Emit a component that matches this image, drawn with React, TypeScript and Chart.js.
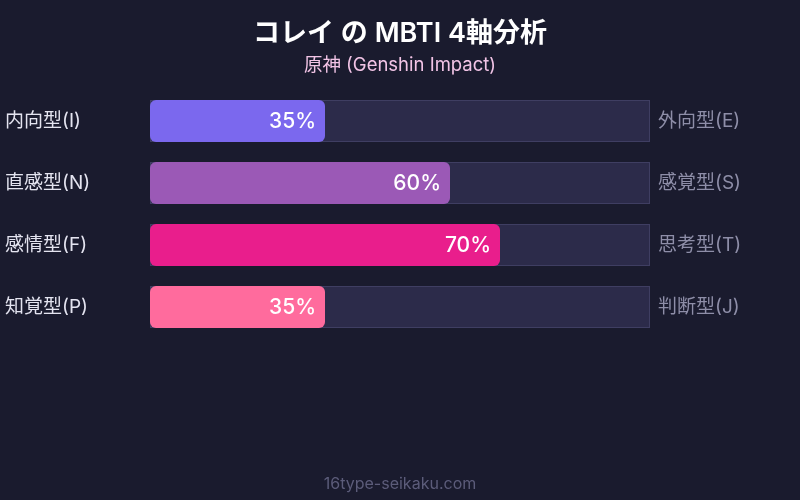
import React, { useEffect, useRef } from "react";
import { Chart, registerables } from "chart.js";

Chart.register(...registerables);

const titleText = "コレイ の MBTI 4軸分析";
const subtitleText = "原神 (Genshin Impact)";
const footerText = "16type-seikaku.com";
const leftLabels = ["内向型(I)", "直感型(N)", "感情型(F)", "知覚型(P)"];
const rightLabels = ["外向型(E)", "感覚型(S)", "思考型(T)", "判断型(J)"];
const values = [35, 60, 70, 35];
const trackValues = [100, 100, 100, 100];
const barColors = ["#7b68ee", "#9b59b6", "#e91e8c", "#ff6b9d"];

const FONT = "Inter, 'Noto Sans CJK JP', 'Noto Sans', sans-serif";
const BG = "#1a1b2e";

export default function App() {
  const ref = useRef<HTMLCanvasElement | null>(null);

  useEffect(() => {
    document.body.style.margin = "0";
    const canvas = ref.current;
    if (!canvas) return;

    const textPlugin = {
      id: "textPlugin",
      afterDatasetsDraw(chart: any) {
        const ctx = chart.ctx;
        const w = chart.width;
        const yScale = chart.scales.y;
        const xScale = chart.scales.x;
        ctx.save();
        ctx.textBaseline = "middle";
        // title
        ctx.textAlign = "center";
        ctx.fillStyle = "#ffffff";
        ctx.font = `600 27px ${FONT}`;
        ctx.fillText(titleText, w / 2, 34);
        ctx.fillStyle = "#f2c4e6";
        ctx.font = `18.5px ${FONT}`;
        ctx.fillText(subtitleText, w / 2, 65);
        // footer
        ctx.fillStyle = "#5c5c7a";
        ctx.font = `16px ${FONT}`;
        ctx.fillText(footerText, w / 2, 484);
        // side labels
        leftLabels.forEach((lab, i) => {
          const y = yScale.getPixelForValue(i);
          ctx.textAlign = "left";
          ctx.fillStyle = "#e4e4f0";
          ctx.font = `19px ${FONT}`;
          ctx.fillText(lab, 5, y);
          ctx.fillStyle = "#8e8ea8";
          ctx.fillText(rightLabels[i], chart.chartArea.right + 8, y);
          // value
          const xEnd = xScale.getPixelForValue(values[i]);
          ctx.textAlign = "right";
          ctx.fillStyle = "#ffffff";
          ctx.font = `500 21px ${FONT}`;
          ctx.fillText(`${values[i]}%`, xEnd - 9, y + 1);
        });
        ctx.restore();
      },
    };

    const chart = new Chart(canvas, {
      type: "bar",
      data: {
        labels: leftLabels,
        datasets: [
          {
            data: values,
            backgroundColor: barColors,
            borderWidth: 0,
            borderRadius: 6,
            borderSkipped: false,
            grouped: false,
            order: 0,
            barPercentage: 0.68,
            categoryPercentage: 1,
          },
          {
            data: trackValues,
            backgroundColor: "#2c2b4a",
            borderColor: "#3f3e62",
            borderWidth: 1,
            borderSkipped: false,
            grouped: false,
            order: 1,
            barPercentage: 0.68,
            categoryPercentage: 1,
          },
        ],
      },
      options: {
        indexAxis: "y",
        animation: false,
        responsive: false,
        maintainAspectRatio: false,
        layout: { padding: { left: 150, right: 150, top: 90, bottom: 162 } },
        scales: {
          x: { display: false, min: 0, max: 100 },
          y: { display: false },
        },
        plugins: {
          legend: { display: false },
          tooltip: { enabled: false },
          title: { display: false },
        },
      } as any,
      plugins: [textPlugin],
    });
    return () => chart.destroy();
  }, []);

  return (
    <div style={{ position: "fixed", left: 0, top: 0, width: 800, height: 500, background: BG }}>
      <canvas ref={ref} width={800} height={500} style={{ width: 800, height: 500, display: "block" }} />
    </div>
  );
}
